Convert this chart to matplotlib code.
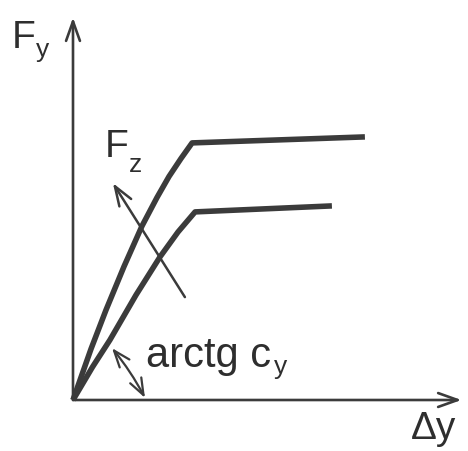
import matplotlib
matplotlib.use("Agg")
import matplotlib.pyplot as plt
from matplotlib.patches import FancyArrowPatch

# Force-displacement characteristics (displacement Δy, lateral force Fy)
disp_high = [0.0, 0.6, 1.1, 1.7, 2.3, 2.8, 3.2, 3.6, 3.97, 9.73]
force_high = [0.0, 1.7, 3.0, 4.45, 5.8, 6.75, 7.45, 8.05, 8.57, 8.77]

disp_low = [0.0, 0.65, 1.23, 2.1, 2.9, 3.5, 4.07, 8.63]
force_low = [0.0, 1.1, 2.0, 3.5, 4.77, 5.6, 6.27, 6.47]

# Direction of increasing vertical load Fz (tail -> head)
fz_tail = (3.73, 3.43)
fz_head = (1.33, 7.23)

# Initial stiffness angle marker (two ends)
angle_a = (1.3, 1.73)
angle_b = (2.4, 0.07)

INK = "#3b3b3b"
FONT = "Liberation Sans"

fig = plt.figure(figsize=(4.68, 4.51), dpi=100)
ax = fig.add_axes([0, 0, 1, 1])
ax.set_xlim(-73 / 30, (468 - 73) / 30)
ax.set_ylim((400 - 451) / 30, 400 / 30)
ax.axis("off")

# Coordinate axes with open arrowheads
for start, end in [((0, 0), (0, 12.75)), ((0, 0), (12.95, 0))]:
    ax.add_patch(FancyArrowPatch(start, end, arrowstyle="->,head_length=14,head_width=5",
                                 mutation_scale=1, lw=1.9, color=INK,
                                 shrinkA=0, shrinkB=0))

# Characteristic curves
ax.plot(disp_high, force_high, color=INK, lw=4.0, solid_joinstyle="round",
        solid_capstyle="butt")
ax.plot(disp_low, force_low, color=INK, lw=4.0, solid_joinstyle="round",
        solid_capstyle="butt")

# Fz arrow
ax.add_patch(FancyArrowPatch(fz_tail, fz_head, arrowstyle="->,head_length=14,head_width=5",
                             mutation_scale=1, lw=1.8, color=INK,
                             shrinkA=0, shrinkB=0))

# Angle marker
ax.add_patch(FancyArrowPatch(angle_a, angle_b,
                             arrowstyle="<->,head_length=12,head_width=4.5",
                             connectionstyle="arc3,rad=-0.05",
                             mutation_scale=1, lw=1.6, color=INK,
                             shrinkA=0, shrinkB=0))

# Labels
txt = dict(color="#2e2e2e", family=FONT, va="baseline", ha="left")
ax.text(-2.03, 11.73, "F", fontsize=28, **txt)
ax.text(-1.22, 11.43, "y", fontsize=19, **txt)
ax.text(1.05, 8.1, "F", fontsize=28, **txt)
ax.text(1.85, 7.6, "z", fontsize=19, **txt)
ax.text(2.45, 1.1, "arctg c", fontsize=30, **txt)
ax.text(6.7, 0.88, "y", fontsize=19, **txt)
ax.text(11.25, -1.3, "\u0394y", fontsize=28, **txt)

fig.savefig("out.png", dpi=100, facecolor="white")
